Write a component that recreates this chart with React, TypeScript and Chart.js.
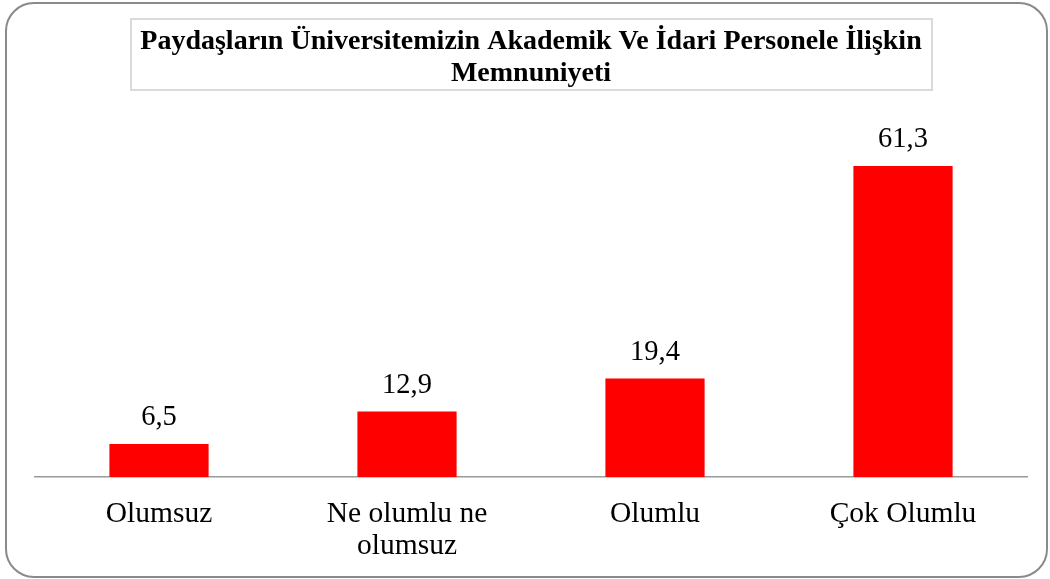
import React, { useEffect, useRef } from "react";
import { Chart, registerables } from "chart.js";

Chart.register(...registerables);

const categories: (string | string[])[] = ["Olumsuz", ["Ne olumlu ne", "olumsuz"], "Olumlu", "Çok Olumlu"];
const values: number[] = [6.5, 12.9, 19.4, 61.3];
const titleLines: string[] = ["Paydaşların Üniversitemizin Akademik Ve İdari Personele İlişkin", "Memnuniyeti"];

const FONT = '"Liberation Serif", "Times New Roman", serif';

const framePlugin = {
  id: "frame",
  beforeDraw(chart: any) {
    const ctx = chart.ctx;
    ctx.save();
    ctx.fillStyle = "#ffffff";
    ctx.fillRect(0, 0, chart.width, chart.height);
    ctx.strokeStyle = "#8a8a8a";
    ctx.lineWidth = 2;
    ctx.beginPath();
    (ctx as any).roundRect(6, 3, 1041, 574, 28);
    ctx.stroke();
    // title box
    ctx.strokeStyle = "#dadada";
    ctx.lineWidth = 2;
    ctx.strokeRect(131, 19, 801, 71);
    ctx.fillStyle = "#000000";
    ctx.font = `bold 28px ${FONT}`;
    ctx.textAlign = "center";
    ctx.textBaseline = "alphabetic";
    ctx.fillText(titleLines[0], 531, 48.5);
    ctx.fillText(titleLines[1], 531, 80.5);
    ctx.restore();
  },
};

const labelPlugin = {
  id: "valueLabels",
  afterDatasetsDraw(chart: any) {
    const ctx = chart.ctx;
    const meta = chart.getDatasetMeta(0);
    ctx.save();
    ctx.fillStyle = "#000000";
    ctx.font = `28.5px ${FONT}`;
    ctx.textAlign = "center";
    ctx.textBaseline = "alphabetic";
    meta.data.forEach((bar: any, i: number) => {
      const v = chart.data.datasets[0].data[i] as number;
      ctx.fillText(v.toFixed(1).replace(".", ","), bar.x, bar.y - 19);
    });
    ctx.restore();
  },
};

export default function App() {
  const ref = useRef<HTMLCanvasElement | null>(null);
  useEffect(() => {
    if (!ref.current) return;
    const chart = new Chart(ref.current, {
      type: "bar",
      data: {
        labels: categories,
        datasets: [
          {
            data: values,
            backgroundColor: "#ff0000",
            borderWidth: 0,
            barPercentage: 0.4,
            categoryPercentage: 1,
          },
        ],
      },
      options: {
        animation: false,
        responsive: false,
        maintainAspectRatio: false,
        layout: { padding: { left: 35, right: 23, top: 122, bottom: 0 } },
        plugins: {
          legend: { display: false },
          title: { display: false },
          tooltip: { enabled: false },
        },
        scales: {
          y: { display: false, min: 0, max: 70 },
          x: {
            grid: { display: false, drawTicks: false },
            border: { display: true, color: "#9a9a9a", width: 1.5 },
            ticks: {
              color: "#000000",
              font: { family: FONT, size: 29.5, lineHeight: 1.095 },
              padding: 21,
              maxRotation: 0,
              autoSkip: false,
            },
            afterFit(scale: any) {
              scale.height = 102;
            },
          },
        },
      },
      plugins: [framePlugin, labelPlugin],
    });
    return () => chart.destroy();
  }, []);
  return (
    <div style={{ position: "fixed", left: 0, top: 0, width: 1050, height: 579 }}>
      <canvas ref={ref} width={1050} height={579} style={{ width: 1050, height: 579, display: "block" }} />
    </div>
  );
}
